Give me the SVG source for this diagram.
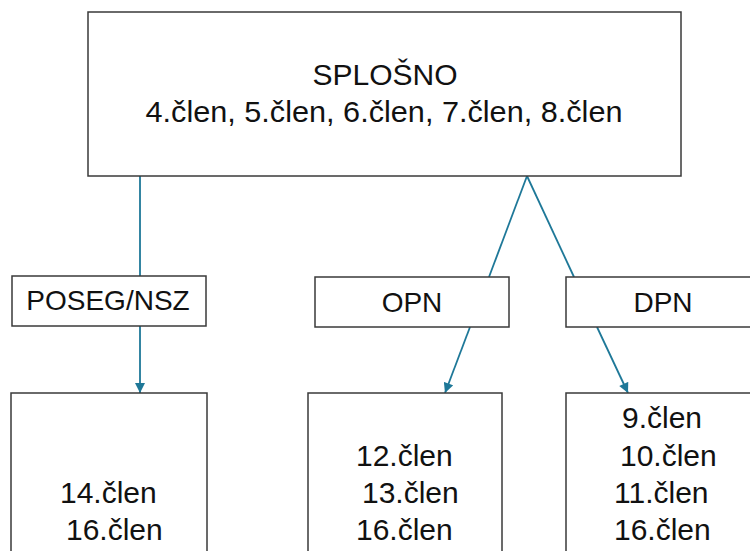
<svg xmlns="http://www.w3.org/2000/svg" width="750" height="551" viewBox="0 0 750 551">
<style>
.box{fill:#fff;stroke:#3a3a3a;stroke-width:1.5}
.t{font-family:"Liberation Sans",Arial,sans-serif;fill:#111}
.big{font-size:30px}
.mid{font-size:28px;text-anchor:middle}
.c{fill:none;stroke:#1e7898;stroke-width:1.8}
</style>
<defs>
<marker id="ah" viewBox="0 0 10 10" refX="10" refY="5" markerWidth="11" markerHeight="10" markerUnits="userSpaceOnUse" orient="auto">
<path d="M0,0 L10,5 L0,10 z" fill="#1e7898"/>
</marker>
</defs>
<rect width="750" height="551" fill="#fff"/>
<g id="connectors">
<line class="c" x1="140" y1="176" x2="140" y2="276"/>
<line class="c" x1="527" y1="176" x2="489" y2="277"/>
<line class="c" x1="527" y1="176" x2="574" y2="277"/>
<line class="c" x1="140" y1="326" x2="140" y2="393" marker-end="url(#ah)"/>
<line class="c" x1="470" y1="327" x2="445" y2="393" marker-end="url(#ah)"/>
<line class="c" x1="597" y1="327" x2="628" y2="393" marker-end="url(#ah)"/>
</g>
<g id="splosno">
<rect class="box" x="88" y="12" width="593" height="164"/>
<text class="t big" x="385" y="85" text-anchor="middle">SPLOŠNO</text>
<text class="t big" x="384" y="122" text-anchor="middle" textLength="477" lengthAdjust="spacingAndGlyphs">4.člen, 5.člen, 6.člen, 7.člen, 8.člen</text>
</g>
<g id="poseg">
<rect class="box" x="12" y="276" width="194" height="50"/>
<text class="t mid" x="108" y="310">POSEG/NSZ</text>
</g>
<g id="opn">
<rect class="box" x="315" y="277" width="194" height="50"/>
<text class="t mid" x="412" y="312">OPN</text>
</g>
<g id="dpn">
<rect class="box" x="566" y="277" width="200" height="50"/>
<text class="t mid" x="663" y="312">DPN</text>
</g>
<g id="poseg-clen">
<rect class="box" x="11" y="393" width="196" height="170"/>
<text class="t big" x="60" y="503">14.člen</text>
<text class="t big" x="66" y="540">16.člen</text>
</g>
<g id="opn-clen">
<rect class="box" x="308" y="393" width="194" height="170"/>
<text class="t big" x="356" y="466">12.člen</text>
<text class="t big" x="362" y="503">13.člen</text>
<text class="t big" x="356" y="540">16.člen</text>
</g>
<g id="dpn-clen">
<rect class="box" x="566" y="393" width="200" height="170"/>
<text class="t big" x="622" y="428">9.člen</text>
<text class="t big" x="620" y="466">10.člen</text>
<text class="t big" x="614" y="503">11.člen</text>
<text class="t big" x="614" y="540">16.člen</text>
</g>
</svg>
